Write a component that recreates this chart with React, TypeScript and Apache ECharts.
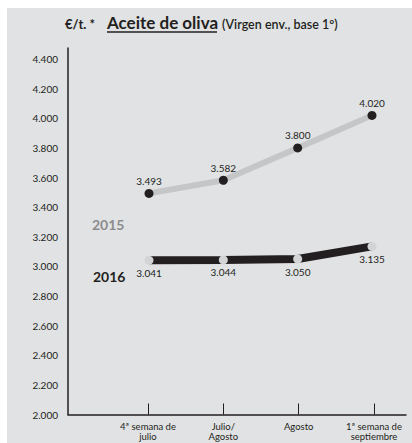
import React, { useEffect, useRef } from "react";
import * as echarts from "echarts";

const categories = ["4ª semana de\njulio", "Julio/\nAgosto", "Agosto", "1ª semana de\nseptiembre"];
const values2015 = [3493, 3582, 3800, 4020];
const values2016 = [3041, 3044, 3050, 3135];
const yMin = 2000;
const yTop = 4400;
const yStep = 200;
const yMax = 4475;

const FONT = "Lato, 'Open Sans', sans-serif";
const INK = "#231f20";

const fmt = (v: number) => String(v).replace(/\B(?=(\d{3})+(?!\d))/g, ".");

export default function App() {
  const ref = useRef<HTMLDivElement>(null);
  useEffect(() => {
    if (!ref.current) return;
    const chart = echarts.init(ref.current, null, { renderer: "svg" });
    const gridBase = { top: 48, bottom: 28.5 };
    const hiddenY = { type: "value", min: yMin, max: yMax, show: false };
    chart.setOption({
      animation: false,
      textStyle: { fontFamily: FONT },
      grid: [
        { left: 68, right: 6, ...gridBase },
        { left: 148, right: 38, ...gridBase },
        { left: 149, right: 40, ...gridBase },
      ],
      xAxis: [
        {
          gridIndex: 0,
          type: "category",
          data: [""],
          axisLine: { show: true, onZero: false, lineStyle: { color: INK, width: 1.5 } },
          axisTick: { show: false },
          axisLabel: { show: false },
        },
        {
          gridIndex: 1,
          type: "category",
          boundaryGap: false,
          data: categories,
          axisLine: { show: false },
          axisTick: { show: true, inside: true, length: 11, lineStyle: { color: INK, width: 1 } },
          axisLabel: {
            interval: 0,
            fontSize: 9.5,
            lineHeight: 10,
            margin: 7,
            color: INK,
            fontFamily: FONT,
          },
        },
        { gridIndex: 2, type: "category", boundaryGap: false, data: categories, show: false },
      ],
      yAxis: [
        {
          gridIndex: 0,
          type: "value",
          min: yMin,
          max: yMax,
          interval: yStep,
          axisLine: { show: true, lineStyle: { color: INK, width: 1.5 } },
          axisTick: { show: false },
          splitLine: { show: false },
          axisLabel: {
            formatter: (v: number) => (v > yTop ? "" : fmt(v)),
            fontSize: 10,
            margin: 10,
            color: INK,
            fontFamily: FONT,
            padding: [0, 0, 4, 0],
          },
        },
        { gridIndex: 1, ...hiddenY },
        { gridIndex: 2, ...hiddenY },
      ],
      series: [
        {
          name: "2015",
          type: "line",
          xAxisIndex: 2,
          yAxisIndex: 2,
          data: values2015,
          lineStyle: { color: "#c5c6c8", width: 6 },
          symbol: "circle",
          symbolSize: 9,
          itemStyle: { color: INK },
          label: {
            show: true,
            position: "top",
            distance: 3,
            formatter: (p: any) => fmt(p.value),
            fontSize: 10,
            color: INK,
            fontFamily: FONT,
          },
          z: 3,
        },
        {
          name: "2016",
          type: "line",
          xAxisIndex: 2,
          yAxisIndex: 2,
          data: values2016,
          lineStyle: { color: INK, width: 8 },
          symbol: "circle",
          symbolSize: 9,
          itemStyle: { color: "#d3d4d6" },
          label: {
            show: true,
            position: "bottom",
            distance: 3,
            formatter: (p: any) => fmt(p.value),
            fontSize: 10,
            color: INK,
            fontFamily: FONT,
          },
          z: 3,
        },
      ],
      graphic: [
        {
          type: "text",
          x: 65,
          y: 24,
          style: { text: "€/t. *", fontSize: 13, fontWeight: "bold", fontFamily: FONT, fill: INK, verticalAlign: "middle" },
        },
        {
          type: "text",
          x: 107,
          y: 22,
          style: { text: "Aceite de oliva", fontSize: 17, fontWeight: "bold", fontFamily: FONT, fill: INK, verticalAlign: "middle" },
        },
        {
          type: "line",
          shape: { x1: 107, y1: 32, x2: 217, y2: 32 },
          style: { stroke: INK, lineWidth: 1.5 },
        },
        {
          type: "text",
          x: 222,
          y: 24,
          style: { text: "(Virgen env., base 1º)", fontSize: 12.5, fontWeight: 600, fontFamily: FONT, fill: INK, verticalAlign: "middle" },
        },
        {
          type: "text",
          x: 92,
          y: 224,
          style: { text: "2015", fontSize: 14, fontWeight: "bold", fontFamily: FONT, fill: "#8c8c8c", verticalAlign: "middle" },
        },
        {
          type: "text",
          x: 93,
          y: 276,
          style: { text: "2016", fontSize: 14, fontWeight: "bold", fontFamily: FONT, fill: INK, verticalAlign: "middle" },
        },
      ],
    });
    return () => chart.dispose();
  }, []);
  return (
    <div style={{ position: "absolute", left: 0, top: 0, width: 412, height: 443, background: "#ffffff" }}>
      <div style={{ position: "absolute", left: 7, top: 8, width: 405, height: 435, background: "#e1e2e4" }} />
      <div ref={ref} style={{ position: "absolute", left: 0, top: 0, width: 412, height: 443 }} />
    </div>
  );
}
